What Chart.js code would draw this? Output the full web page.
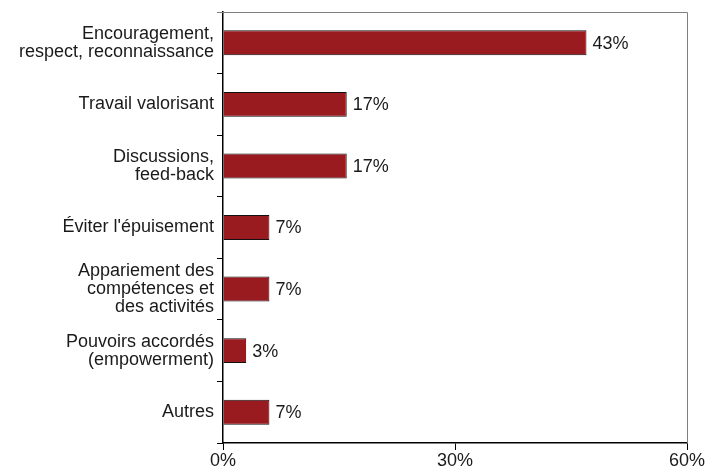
<!DOCTYPE html>
<html>
<head>
<meta charset="utf-8">
<script src="https://cdn.jsdelivr.net/npm/chart.js@4/dist/chart.umd.min.js"></script>
<style>
html,body{margin:0;padding:0;background:#fff;}
#wrap{width:706px;height:473px;position:relative;}
</style>
</head>
<body>
<div id="wrap"><canvas id="c" width="706" height="473"></canvas></div>
<script>
const categories = [
  ["Encouragement,", "respect, reconnaissance"],
  ["Travail valorisant"],
  ["Discussions,", "feed-back"],
  ["Éviter l'épuisement"],
  ["Appariement des", "compétences et", "des activités"],
  ["Pouvoirs accordés", "(empowerment)"],
  ["Autres"]
];
const values = [47, 16, 16, 6, 6, 3, 6];
const valueLabels = ["43%", "17%", "17%", "7%", "7%", "3%", "7%"];
const xTicks = [0, 30, 60];

const FONT = "'Liberation Sans', Arial, Helvetica, sans-serif";
const TEXT = "#1a1a1a";

const frame = {
  id: 'frame',
  afterDraw(chart) {
    const {ctx, chartArea: a} = chart;
    ctx.save();
    ctx.strokeStyle = '#808080';
    ctx.lineWidth = 1;
    ctx.beginPath();
    ctx.moveTo(a.left - 6, a.top + 0.5);
    ctx.lineTo(a.right + 0.5, a.top + 0.5);
    ctx.lineTo(a.right + 0.5, a.bottom);
    ctx.stroke();
    ctx.restore();
  }
};

const valueText = {
  id: 'valueText',
  afterDatasetsDraw(chart) {
    const {ctx} = chart;
    const meta = chart.getDatasetMeta(0);
    ctx.save();
    ctx.font = "18px " + FONT;
    ctx.fillStyle = TEXT;
    ctx.textAlign = 'left';
    ctx.textBaseline = 'middle';
    meta.data.forEach((bar, i) => {
      ctx.fillText(valueLabels[i], bar.x + 6, bar.y + 1);
    });
    ctx.restore();
  }
};

new Chart(document.getElementById('c'), {
  type: 'bar',
  data: {
    labels: categories,
    datasets: [{
      data: values,
      backgroundColor: '#991b20',
      borderColor: '#111111',
      borderWidth: 1,
      barPercentage: 0.405,
      categoryPercentage: 1.0
    }]
  },
  options: {
    indexAxis: 'y',
    responsive: false,
    animation: false,
    layout: {padding: {top: 11, right: 19, left: 0, bottom: 0}},
    plugins: {legend: {display: false}, tooltip: {enabled: false}},
    scales: {
      x: {
        min: 0, max: 60,
        afterBuildTicks(scale) { scale.ticks = xTicks.map(v => ({value: v})); },
        ticks: {
          callback: v => v + '%',
          color: TEXT,
          font: {family: FONT, size: 18},
          padding: 0,
          maxRotation: 0
        },
        grid: {drawOnChartArea: false, tickLength: 7, color: '#000', lineWidth: 1},
        border: {color: '#000', width: 1.5},
        afterFit(scale) { scale.height = 30; }
      },
      y: {
        offset: true,
        ticks: {
          color: TEXT,
          font: {family: FONT, size: 18, lineHeight: 1.0},
          padding: 3,
          crossAlign: 'near'
        },
        grid: {offset: true, drawOnChartArea: false, tickLength: 6, color: '#000', lineWidth: 1},
        border: {color: '#000', width: 1.5},
        afterFit(scale) { scale.width = 223; }
      }
    }
  },
  plugins: [frame, valueText]
});
</script>
</body>
</html>
